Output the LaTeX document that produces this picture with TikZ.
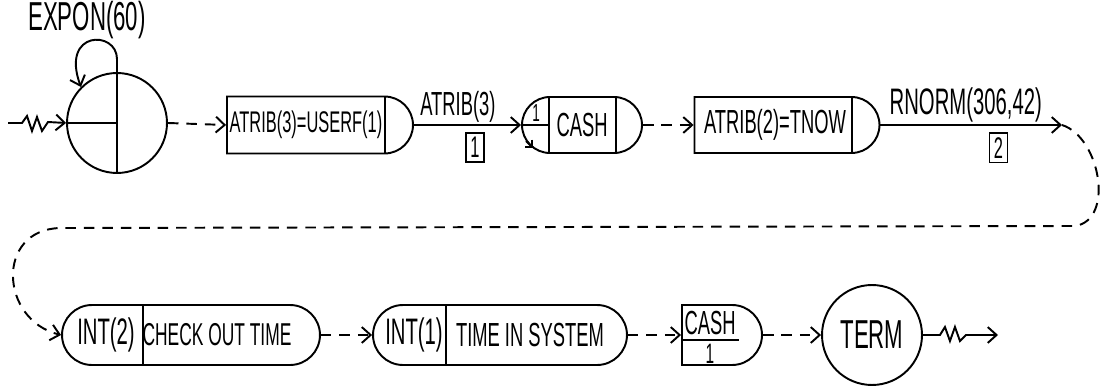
\documentclass[tikz,border=0pt]{standalone}
\usepackage{fontspec}
\newfontfamily\hand[FakeStretch=0.55]{Liberation Sans}
\newcommand\handsz[1]{\hand\fontsize{#1}{#1}\selectfont}
\usetikzlibrary{shapes.misc,arrows.meta,calc}

\begin{document}
\begin{tikzpicture}[x=0.02cm,y=-0.02cm,line width=1.1pt,
  >={Straight Barb[length=5pt,width=9pt]},
  lbl/.style={font=\handsz{19},inner sep=1pt},
  blk/.style={draw,rounded rectangle,minimum height=1.14cm,inner sep=0pt,font=\handsz{19}},
  halfblk/.style={blk,rounded rectangle left arc=none},
  ring/.style={draw,circle,minimum size=2cm,inner sep=0pt},
  dsh/.style={dash pattern=on 6pt off 4.5pt},
  num/.style={draw,font=\handsz{17},inner sep=2.5pt,line width=0.9pt}]
\useasboundingbox (0,0) rectangle (1105,388);

\path (117,123) node[ring] (cre) {};
\draw (cre.north) -- (cre.south);
\draw (cre.west) -- (cre.center);
\draw[->] (cre.north) -- ++(0,-13) .. controls (117,30) and (60,30) .. (cre.north west);
\path (87,20) node[lbl,font=\handsz{23}] (expo) {EXPON(60)};
\coordinate (src) at (8,123);
\draw[->] (src) -- ++(14,0) -- ++(5,-7) -- ++(5,15) -- ++(5,-14) -- ++(5,14) -- ++(6,-9) -- (cre.west);

\path (320,125) node[halfblk,minimum width=3.72cm] (as1) {};
\draw ($(as1.east)+(-28.5,-28.5)$) -- ($(as1.east)+(-28.5,28.5)$);
\path (306,125) node[lbl,font=\handsz{17}] (as1t) {ATRIB(3)=USERF(1)};
\draw[dsh,->] (cre.east) -- (as1.west);

\path (582,125) node[blk,minimum width=2.4cm,minimum height=1.12cm] (q1) {CASH};
\draw ($(q1.west)+(28,-28)$) -- ($(q1.west)+(28,28)$);
\draw ($(q1.east)+(-27,-28)$) -- ($(q1.east)+(-27,28)$);
\draw (q1.west) -- ++(28,0);
\path ($(q1.west)+(15,-12)$) node[lbl,font=\handsz{14}] (q1n) {1};
\draw[-{Straight Barb[length=3pt,width=6pt]}] ($(q1.west)+(5,16)$) -- ($(q1.west)+(12,23)$);
\draw[->] (as1.east) -- node[lbl,above,pos=0.41] (lab1) {ATRIB(3)} node[num,below=4pt,pos=0.57] (n1) {1} (q1.west);

\path (787,125) node[halfblk,minimum width=3.7cm,minimum height=1.12cm] (as2) {};
\draw ($(as2.east)+(-28,-28)$) -- ($(as2.east)+(-28,28)$);
\path (775,125) node[lbl] (as2t) {ATRIB(2)=TNOW};
\draw[dsh,->] (q1.east) -- (as2.west);
\coordinate (out2) at (1062,125);
\draw[->] (as2.east) -- node[lbl,above,pos=0.47,font=\handsz{21}] (lab2) {RNORM(306,42)} node[num,below=4pt,pos=0.65] (n2) {2} (out2);

\path (191,335) node[blk,minimum width=5.16cm,minimum height=1.2cm] (col1) {};
\draw ($(col1.west)+(82,-30)$) -- ($(col1.west)+(82,30)$);
\path (106,335) node[lbl,font=\handsz{21}] (col1a) {INT(2)};
\path (217,335) node[lbl,font=\handsz{18}] (col1b) {CHECK OUT TIME};
\draw[dsh,->] (out2) .. controls (1100,137) and (1115,220) .. (1075,226) -- (60,228) .. controls (-5,230) and (0,320) .. (col1.west);

\path (500,335) node[blk,minimum width=5.08cm,minimum height=1.2cm] (col2) {};
\draw ($(col2.west)+(74,-30)$) -- ($(col2.west)+(74,30)$);
\path (414,335) node[lbl,font=\handsz{21}] (col2a) {INT(1)};
\path (530,335) node[lbl] (col2b) {TIME IN SYSTEM};
\draw[dsh,->] (col1.east) -- (col2.west);

\path (722,335) node[halfblk,minimum width=1.6cm,minimum height=1.2cm] (fr) {};
\draw ($(fr.west)+(0,5)$) -- ++(58,0);
\path (710,323) node[lbl] (frt) {CASH};
\path (710,354) node[lbl,font=\handsz{16}] (frn) {1};
\draw[dsh,->] (col2.east) -- (fr.west);

\path (872,335) node[ring,font=\handsz{23}] (trm) {TERM};
\draw[dsh,->] (fr.east) -- (trm.west);
\coordinate (sink) at (998,335);
\draw[->] (trm.east) -- ++(17,0) -- ++(5,-8) -- ++(5,14) -- ++(5,-14) -- ++(5,14) -- ++(6,-6) -- (sink);
\end{tikzpicture}
\end{document}
